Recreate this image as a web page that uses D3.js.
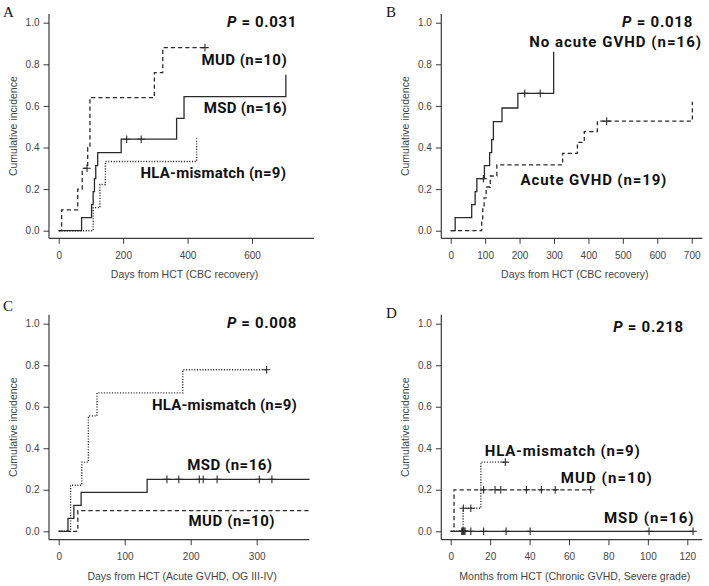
<!DOCTYPE html>
<html><head><meta charset="utf-8">
<script src="https://cdn.jsdelivr.net/npm/d3@7"></script>
<style>html,body{margin:0;padding:0;background:#fff;}svg{display:block;}</style>
</head><body>
<svg id="chart" width="709" height="586"></svg>
<script>
// ---------------- DATA ----------------
const yTicks = [0, 0.2, 0.4, 0.6, 0.8, 1.0];
const xTicksA = [0, 200, 400, 600];
const xTicksB = [0, 100, 200, 300, 400, 500, 600, 700];
const xTicksC = [0, 100, 200, 300];
const xTicksD = [0, 20, 40, 60, 80, 100, 120];

const panelLetters = ["A", "B", "C", "D"];
const yTitle = "Cumulative incidence";
const xTitles = ["Days from HCT (CBC recovery)", "Days from HCT (CBC recovery)",
  "Days from HCT (Acute GVHD, OG III-IV)", "Months from HCT (Chronic GVHD, Severe grade)"];
const pValues = ["0.031", "0.018", "0.008", "0.218"];

// Panel A
const A_MUD_t = [0, 9, 59, 73, 90, 97, 297, 323];
const A_MUD_y = [0, 0.1, 0.2, 0.3, 0.4, 0.64, 0.76, 0.88];
const A_MUD_end = 454;
const A_MUD_cens = [88, 454];
const A_MSD_t = [0, 71, 102, 107, 111, 115, 121, 194, 366, 389, 705];
const A_MSD_y = [0, 0.0625, 0.125, 0.1875, 0.25, 0.3125, 0.375, 0.44, 0.54, 0.645, 0.75];
const A_MSD_end = 705;
const A_MSD_cens = [211, 256];
const A_HLA_t = [0, 107, 128, 145, 428];
const A_HLA_y = [0, 0.111, 0.222, 0.333, 0.444];
const A_HLA_end = 428;
const A_HLA_cens = [];

// Panel B
const B_No_t = [0, 13, 61, 71, 76, 98, 113, 119, 124, 149, 195, 299];
const B_No_y = [0, 0.0625, 0.125, 0.1875, 0.25, 0.3125, 0.375, 0.4375, 0.524, 0.59, 0.66, 0.86];
const B_No_end = 299;
const B_No_cens = [95, 215, 260];
const B_Ac_t = [0, 90, 93, 97, 103, 115, 134, 325, 368, 388, 426, 702];
const B_Ac_y = [0, 0.053, 0.105, 0.158, 0.21, 0.263, 0.316, 0.372, 0.425, 0.476, 0.527, 0.62];
const B_Ac_end = 702;
const B_Ac_cens = [453];

// Panel C
const C_HLA_t = [0, 18, 35, 45, 58, 188];
const C_HLA_y = [0, 0.222, 0.333, 0.556, 0.667, 0.778];
const C_HLA_end = 315;
const C_HLA_cens = [315];
const C_MSD_t = [0, 14, 23, 34, 134];
const C_MSD_y = [0, 0.0625, 0.125, 0.1875, 0.25];
const C_MSD_end = 380;
const C_MSD_cens = [164, 182, 213, 219, 240, 304, 323];
const C_MUD_t = [0, 29];
const C_MUD_y = [0, 0.1];
const C_MUD_end = 380;
const C_MUD_cens = [];

// Panel D
const D_MSD_t = [0];
const D_MSD_y = [0];
const D_MSD_end = 123;
const D_MSD_cens = [5.6, 6.1, 6.4, 6.8, 7.3, 10.2, 16.7, 28.1, 40.3, 100.6, 122.9];
const D_MUD_t = [0, 1.7];
const D_MUD_y = [0, 0.2];
const D_MUD_end = 71;
const D_MUD_cens = [16.7, 22.5, 25.4, 38.4, 46, 53, 71];
const D_HLA_t = [0, 6.3, 15.3];
const D_HLA_y = [0, 0.111, 0.333];
const D_HLA_end = 27.7;
const D_HLA_cens = [6.4, 10.2, 27.7];

const labelsA = ["MUD (n=10)", "MSD (n=16)", "HLA-mismatch (n=9)"];
const labelsB = ["No acute GVHD (n=16)", "Acute GVHD (n=19)"];
const labelsC = ["HLA-mismatch (n=9)", "MSD (n=16)", "MUD (n=10)"];
const labelsD = ["HLA-mismatch (n=9)", "MUD (n=10)", "MSD (n=16)"];

// ---------------- LAYOUT / STYLE ----------------
const STY = { solid: null, dashed: "4.2,3", dotted: "1.1,1.6" };
const lineColor = "#2b2b2b";
const axisColor = "#3a3a3a";

const panels = [
  { letter: 0, lx: 3, ly: 17, xTicks: xTicksA, xd: [0, 600], xr: [58.7, 252], yr: [230.7, 22.7],
    left: 49, bottom: 238.3, top: 14, right: 314, title: 0, p: 0,
    pPos: [740, 0.979], pW: 70,
    series: [
      { t: A_MUD_t, y: A_MUD_y, end: A_MUD_end, c: A_MUD_cens, s: "dashed" },
      { t: A_MSD_t, y: A_MSD_y, end: A_MSD_end, c: A_MSD_cens, s: "solid" },
      { t: A_HLA_t, y: A_HLA_y, end: A_HLA_end, c: A_HLA_cens, s: "dotted" }],
    labels: [
      { txt: labelsA[0], x: 709, y: 0.797, w: 85.7 },
      { txt: labelsA[1], x: 709, y: 0.566, w: 83.3 },
      { txt: labelsA[2], x: 706, y: 0.253, w: 145.7 }] },
  { letter: 1, lx: 386, ly: 17, xTicks: xTicksB, xd: [0, 700], xr: [450.7, 691.7], yr: [230.7, 22.7],
    left: 441.3, bottom: 238.3, top: 14, right: 702.3, title: 1, p: 1,
    pPos: [704, 0.979], pW: 71,
    series: [
      { t: B_No_t, y: B_No_y, end: B_No_end, c: B_No_cens, s: "solid" },
      { t: B_Ac_t, y: B_Ac_y, end: B_Ac_end, c: B_Ac_cens, s: "dashed" }],
    labels: [
      { txt: labelsB[0], x: 730, y: 0.883, w: 172.7 },
      { txt: labelsB[1], x: 629, y: 0.22, w: 146.7 }] },
  { letter: 2, lx: 3, ly: 310.5, xTicks: xTicksC, xd: [0, 300], xr: [58.7, 256.7], yr: [531.3, 323.7],
    left: 49, bottom: 539.7, top: 314.7, right: 309.3, title: 2, p: 2,
    pPos: [361, 0.979], pW: 70,
    series: [
      { t: C_HLA_t, y: C_HLA_y, end: C_HLA_end, c: C_HLA_cens, s: "dotted" },
      { t: C_MSD_t, y: C_MSD_y, end: C_MSD_end, c: C_MSD_cens, s: "solid" },
      { t: C_MUD_t, y: C_MUD_y, end: C_MUD_end, c: C_MUD_cens, s: "dashed" }],
    labels: [
      { txt: labelsC[0], x: 361, y: 0.586, w: 145 },
      { txt: labelsC[1], x: 324, y: 0.297, w: 85.3 },
      { txt: labelsC[2], x: 328, y: 0.024, w: 86.7 }] },
  { letter: 3, lx: 386, ly: 318, xTicks: xTicksD, xd: [0, 120], xr: [450.7, 687.3], yr: [531.3, 323.7],
    left: 441.3, bottom: 539.7, top: 314.7, right: 702.3, title: 3, p: 3,
    pPos: [118.3, 0.96], pW: 70.7,
    series: [
      { t: D_MSD_t, y: D_MSD_y, end: D_MSD_end, c: D_MSD_cens, s: "solid" },
      { t: D_MUD_t, y: D_MUD_y, end: D_MUD_end, c: D_MUD_cens, s: "dashed" },
      { t: D_HLA_t, y: D_HLA_y, end: D_HLA_end, c: D_HLA_cens, s: "dotted" }],
    labels: [
      { txt: labelsD[0], x: 96.3, y: 0.361, w: 155.7 },
      { txt: labelsD[1], x: 102.6, y: 0.231, w: 92.3 },
      { txt: labelsD[2], x: 123.7, y: 0.04, w: 90.7 }] }
];

const svg = d3.select("#chart");
const boldFont = "Roboto, 'Noto Sans', sans-serif";
const axisFont = "'Liberation Sans', Arial, sans-serif";

// keep ~15px glyphs and spread them (the original font is wider) to the measured width
function fitText(sel, target) {
  const node = sel.node();
  const w = node.getComputedTextLength();
  if (w <= 0) return;
  const n = sel.text().length;
  if (w > target) {
    const fs = parseFloat(sel.attr("font-size"));
    sel.attr("font-size", (fs * target / w).toFixed(2));
  } else {
    sel.attr("letter-spacing", ((target - w) / n).toFixed(2));
  }
}

panels.forEach(P => {
  const x = d3.scaleLinear().domain(P.xd).range(P.xr);
  const y = d3.scaleLinear().domain([0, 1]).range(P.yr);
  const g = svg.append("g");

  g.append("text").attr("x", P.lx).attr("y", P.ly)
    .attr("font-family", "'Liberation Serif', 'Times New Roman', serif")
    .attr("font-size", 15).attr("fill", "#111").text(panelLetters[P.letter]);

  g.append("line").attr("x1", P.left).attr("x2", P.left).attr("y1", P.top).attr("y2", P.bottom)
    .attr("stroke", axisColor).attr("stroke-width", 1.2);
  g.append("line").attr("x1", P.left).attr("x2", P.right).attr("y1", P.bottom).attr("y2", P.bottom)
    .attr("stroke", axisColor).attr("stroke-width", 1.2);

  const yAxis = d3.axisLeft(y).tickValues(yTicks).tickFormat(d3.format(".1f"))
    .tickSize(5.5).tickPadding(4);
  const ya = g.append("g").attr("transform", `translate(${P.left},0)`).call(yAxis);
  ya.select(".domain").remove();
  ya.selectAll("line").attr("stroke", axisColor).attr("stroke-width", 1);
  ya.selectAll("text").attr("font-family", axisFont).attr("font-size", 10).attr("fill", "#444");

  const xAxis = d3.axisBottom(x).tickValues(P.xTicks).tickFormat(d3.format("d"))
    .tickSize(5.5).tickPadding(8);
  const xa = g.append("g").attr("transform", `translate(0,${P.bottom})`).call(xAxis);
  xa.select(".domain").remove();
  xa.selectAll("line").attr("stroke", axisColor).attr("stroke-width", 1);
  xa.selectAll("text").attr("font-family", axisFont).attr("font-size", 10).attr("fill", "#444");

  g.append("text").attr("x", (P.left + P.right) / 2 + 3).attr("y", P.bottom + 40)
    .attr("text-anchor", "middle").attr("font-family", axisFont).attr("font-size", 10.5)
    .attr("fill", "#444").text(xTitles[P.title]);
  g.append("text")
    .attr("transform", `translate(${P.left - 32},${(P.top + P.bottom) / 2}) rotate(-90)`)
    .attr("text-anchor", "middle").attr("font-family", axisFont).attr("font-size", 10.5)
    .attr("fill", "#444").text(yTitle);

  const line = d3.line().x(d => x(d[0])).y(d => y(d[1])).curve(d3.curveStepAfter);
  P.series.forEach(S => {
    const pts = S.t.map((t, i) => [t, S.y[i]]);
    pts.push([S.end, S.y[S.y.length - 1]]);
    g.append("path").attr("d", line(pts)).attr("fill", "none")
      .attr("stroke", lineColor).attr("stroke-width", S.s === "dotted" ? 1.4 : 1.3)
      .attr("stroke-dasharray", STY[S.s]);
    S.c.forEach(c => {
      let v = S.y[0];
      S.t.forEach((t, i) => { if (t <= c) v = S.y[i]; });
      const cx = x(c), cy = y(v);
      g.append("path").attr("d", `M${cx - 3.8},${cy}H${cx + 3.8}M${cx},${cy - 3.8}V${cy + 3.8}`)
        .attr("stroke", lineColor).attr("stroke-width", 1.1).attr("fill", "none");
    });
  });

  P.labels.forEach(L => {
    const t = g.append("text").attr("x", x(L.x)).attr("y", y(L.y)).attr("text-anchor", "end")
      .attr("font-family", boldFont).attr("font-weight", "bold").attr("font-size", 15)
      .attr("fill", "#111").text(L.txt);
    fitText(t, L.w);
  });

  const pt = g.append("text").attr("x", x(P.pPos[0])).attr("y", y(P.pPos[1])).attr("text-anchor", "end")
    .attr("font-family", boldFont).attr("font-weight", "bold").attr("font-size", 15).attr("fill", "#111");
  pt.append("tspan").attr("font-style", "italic").text("P");
  pt.append("tspan").text(" = " + pValues[P.p]);
  fitText(pt, P.pW);
});
</script>
</body></html>
